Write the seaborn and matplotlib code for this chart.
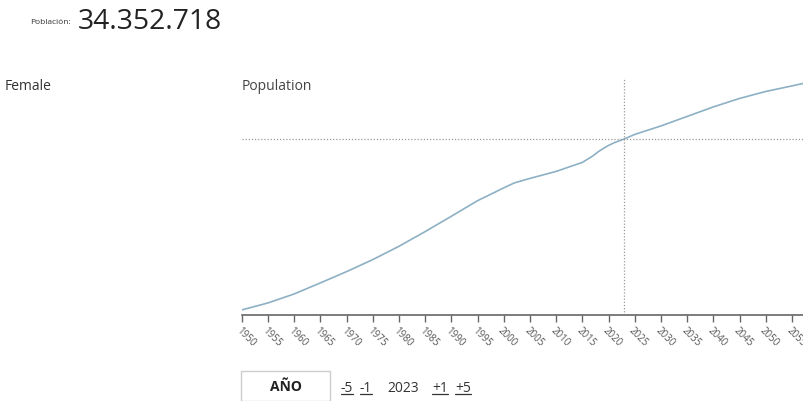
import numpy as np
import pandas as pd
import matplotlib
matplotlib.use("Agg")
import matplotlib.pyplot as plt
import seaborn as sns
from matplotlib.lines import Line2D
from matplotlib.patches import Rectangle

# ---- data (female population, millions) ----
years = [1950, 1955, 1960, 1965, 1970, 1975, 1980, 1985, 1990, 1995, 2000,
         2002, 2005, 2010, 2013, 2015, 2017, 2018, 2019, 2020, 2021, 2022, 2023,
         2025, 2030, 2035, 2040, 2045, 2050, 2055, 2058]
female_pop = [3.80, 4.35, 5.06, 5.93, 6.82, 7.77, 8.82, 9.98, 11.19, 12.42, 13.43,
              13.82, 14.18, 14.73, 15.16, 15.44, 15.95, 16.27, 16.54, 16.78, 16.98, 17.14, 17.29,
              17.65, 18.32, 19.07, 19.82, 20.49, 21.04, 21.48, 21.75]
tick_years = list(range(1950, 2060, 5))
selected_year = 2023
total_label = "34.352.718"
step_labels = ["-5", "-1", "2023", "+1", "+5"]

df = pd.DataFrame({"year": years, "pop": female_pop})
sel_val = female_pop[years.index(selected_year)]

sns.set_theme(style="white")
plt.rcParams['font.family'] = ['Open Sans', 'DejaVu Sans']

W, H = 804, 402
fig = plt.figure(figsize=(W / 100, H / 100), dpi=100)
fig.patch.set_facecolor("white")

def fx(px):
    return px / W

def fy(py):
    return 1 - py / H

ax_left, ax_right, ax_top, ax_bottom = 241.7, 804, 75, 316
ax = fig.add_axes([fx(ax_left), fy(ax_bottom), fx(ax_right - ax_left), fy(ax_top) - fy(ax_bottom)])
ax.set_facecolor("white")

line_color = "#8db0c4"
sns.lineplot(data=df, x="year", y="pop", ax=ax, color=line_color, linewidth=1.2,
             solid_joinstyle="round", solid_capstyle="round")

x_max = 1950 + (ax_right - ax_left) / 5.24
ax.set_xlim(1950, x_max)
ax.set_ylim(3.40, 22.42)

# crosshair
ax.axvline(selected_year, color="#9a9a9a", linestyle=(0, (1, 1.5)), linewidth=0.9, ymax=0.98)
ax.axhline(sel_val, xmin=0, xmax=1, color="#9a9a9a", linestyle=(0, (1, 1.5)), linewidth=0.9)

for s in ["top", "right", "left"]:
    ax.spines[s].set_visible(False)
ax.spines["bottom"].set_color("#666666")
ax.spines["bottom"].set_linewidth(1.2)
ax.set_yticks([])
ax.set_xticks(tick_years)
ax.set_xticklabels([str(y) for y in tick_years], rotation=-45, ha="left", va="top",
                   rotation_mode="anchor", fontsize=7, color="#555555")
ax.tick_params(axis="x", direction="out", length=5, width=1, color="#666666", pad=1.5, bottom=True)
ax.set_xlabel("")
ax.set_ylabel("")

# header texts
fig.text(fx(30), fy(24), "Población:", fontsize=6, color="#333333", va="baseline", ha="left")
fig.text(fx(78), fy(29), total_label, fontsize=20.3, color="#222222", va="baseline", ha="left")
fig.text(fx(5), fy(86), "Female", fontsize=10, color="#333333", va="center", ha="left")
fig.text(fx(242), fy(87), "Population", fontsize=10, color="#444444", va="center", ha="left")

# bottom controls
fig.patches.append(Rectangle((fx(241), fy(402)), fx(89), fy(372) - fy(402), transform=fig.transFigure,
                             facecolor="white", edgecolor="#cccccc", linewidth=1))
fig.text(fx(285.5), fy(387), "AÑO", fontsize=10, fontweight="bold", color="#222222", ha="center", va="center")

positions = [341, 360, 387, 432, 455]
underline = [True, True, False, True, True]
fig.canvas.draw()
renderer = fig.canvas.get_renderer()
for lab, px, ul in zip(step_labels, positions, underline):
    t = fig.text(fx(px), fy(392), lab, fontsize=10, color="#333333", ha="left", va="baseline")
    if ul:
        bb = t.get_window_extent(renderer=renderer)
        x0, x1 = bb.x0 / W, bb.x1 / W
        fig.lines.append(Line2D([x0, x1], [fy(395), fy(395)], transform=fig.transFigure,
                                color="#333333", linewidth=0.9))

fig.savefig("out.png", dpi=100, facecolor="white")
